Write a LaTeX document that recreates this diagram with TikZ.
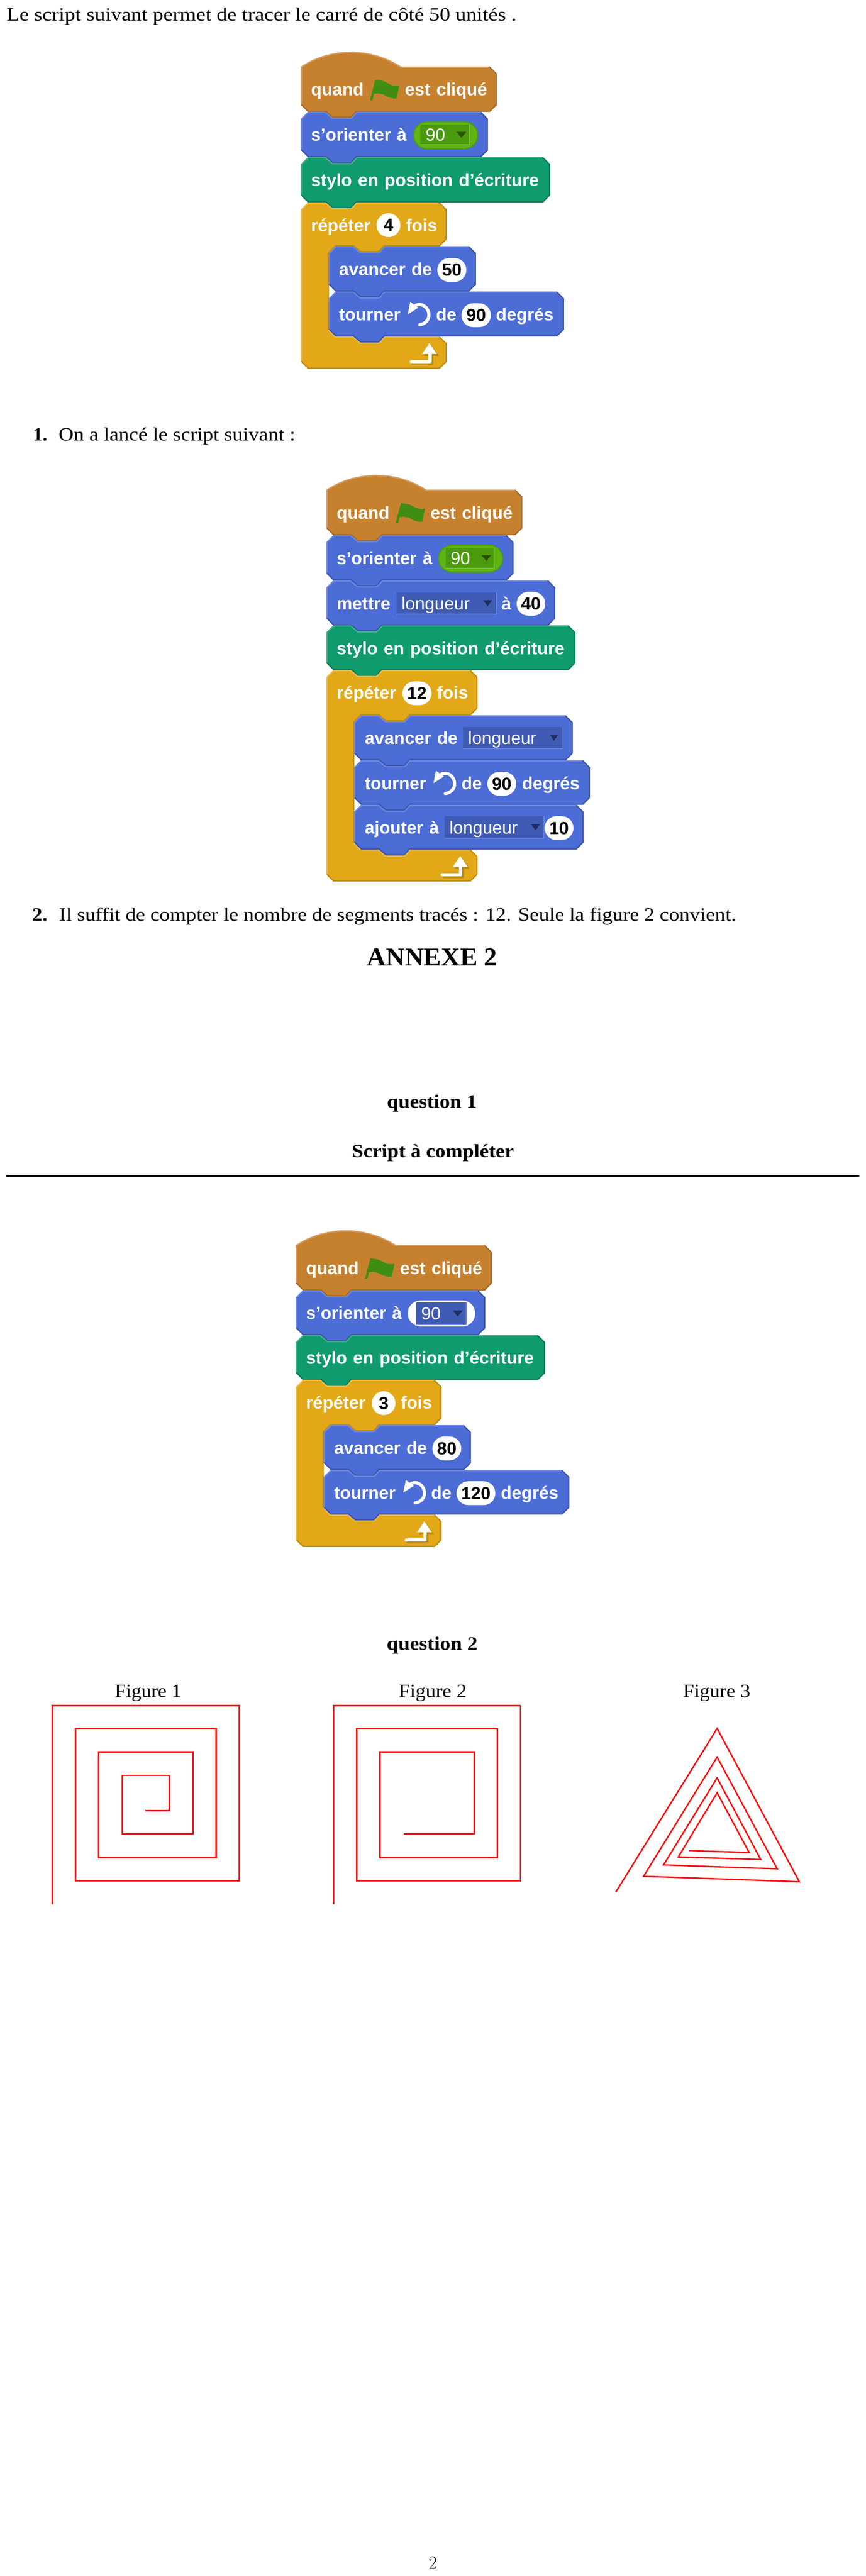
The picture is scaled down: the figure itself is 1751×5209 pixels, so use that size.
\documentclass[tikz,border=0pt]{standalone}
\usepackage{graphicx}
\usepackage{fontspec}
\usetikzlibrary{calc}
\newfontfamily\sr{Liberation Serif}
\newfontfamily\blk{Liberation Sans}
\definecolor{oraB}{HTML}{C6812F}\definecolor{oraL}{HTML}{D59C5F}\definecolor{oraD}{HTML}{A5682A}
\definecolor{bluB}{HTML}{4C6CD6}\definecolor{bluL}{HTML}{6D88E0}\definecolor{bluD}{HTML}{3C55A8}
\definecolor{grnB}{HTML}{0F9B6E}\definecolor{grnL}{HTML}{3FB08A}\definecolor{grnD}{HTML}{0C7C58}
\definecolor{yelB}{HTML}{E2A818}\definecolor{yelL}{HTML}{E9BD50}\definecolor{yelD}{HTML}{BE8C12}
\definecolor{flagG}{HTML}{3F8E13}
\definecolor{pilG}{HTML}{5FB513}\definecolor{pilGD}{HTML}{4A9A0E}\definecolor{pilGL}{HTML}{78C43A}\definecolor{pilGT}{HTML}{2A4F08}
\definecolor{ddB}{HTML}{3F5BB3}\definecolor{ddL}{HTML}{6784DF}\definecolor{ddT}{HTML}{1F2D60}
\tikzset{
  edgeline/.style={line width=2.4pt,line join=miter},
  blocktext/.style={anchor=base west,inner sep=0pt,text=white,font=\blk\bfseries\fontsize{17.75}{20}\selectfont,execute at begin node={\spaceskip=6.1pt\relax}},
  regtext/.style={anchor=base west,inner sep=0pt,text=white,font=\blk\fontsize{17.75}{20}\selectfont},
  numtext/.style={anchor=base,inner sep=0pt,text=black,font=\blk\bfseries\fontsize{17.75}{20}\selectfont},
  bodytext/.style={anchor=base west,inner sep=0pt,text=black,font=\sr\fontsize{19}{22}\selectfont},
  boldtext/.style={anchor=base west,inner sep=0pt,text=black,font=\sr\bfseries\fontsize{19}{22}\selectfont},
  titletext/.style={anchor=base west,inner sep=0pt,text=black,font=\sr\bfseries\fontsize{26}{30}\selectfont},
  pageno/.style={anchor=base west,inner sep=0pt,text=black,font=\fontsize{19}{22}\selectfont},
  redpath/.style={red,line width=1.5pt,line join=miter},
  redtri/.style={red,line width=1.4pt,line join=miter},
  fitscale/.style 2 args={shift={(#1,#2)},scale=.995,shift={(-#1,-#2)}}
}
\newcounter{nn}
\newcommand\tx[4]{\stepcounter{nn}\node[#1] (n\thenn) at (#2,#3) {#4};}
\newcommand\fitx[2]{\resizebox{\dimexpr #1pt/2\relax}{\height}{#2}}
\newcommand\cmdblock[5]{%
  \begin{scope}[shift={(#1,#2)}]
  \def\bW{#3}\def\bH{#4}
  \def\pth{(0,14)--(14,0)--(50,0)--(64,12)--(102,12)--(113,0)--(\bW-14,0)--(\bW,14)--(\bW,\bH-14)--(\bW-14,\bH)--(113,\bH)--(102,\bH+12)--(64,\bH+12)--(50,\bH)--(14,\bH)--(0,\bH-14)--cycle}
  \fill[#5B] \pth;
  \begin{scope}\clip \pth;
    \draw[#5L,edgeline] (0,\bH-14)--(0,14)--(14,0)--(50,0)--(64,12)--(102,12)--(113,0)--(\bW-14,0);
    \draw[#5D,edgeline] (\bW-14,0)--(\bW,14)--(\bW,\bH-14)--(\bW-14,\bH)--(113,\bH)--(102,\bH+12)--(64,\bH+12)--(50,\bH)--(14,\bH)--(0,\bH-14);
  \end{scope}
  \end{scope}}
\newcommand\hatblock[5]{%
  \begin{scope}[shift={(#1,#2)}]
  \def\bW{#3}\def\bH{#4}
  \def\pth{(0,0) .. controls (60,-40) and (143,-40) .. (203,0)--(\bW-14,0)--(\bW,14)--(\bW,\bH-14)--(\bW-14,\bH)--(113,\bH)--(102,\bH+12)--(64,\bH+12)--(50,\bH)--(14,\bH)--(0,\bH-14)--cycle}
  \fill[#5B] \pth;
  \begin{scope}\clip \pth;
    \draw[#5L,edgeline] (0,\bH-14)--(0,0) .. controls (60,-40) and (143,-40) .. (203,0)--(\bW-14,0);
    \draw[#5D,edgeline] (\bW-14,0)--(\bW,14)--(\bW,\bH-14)--(\bW-14,\bH)--(113,\bH)--(102,\bH+12)--(64,\bH+12)--(50,\bH)--(14,\bH)--(0,\bH-14);
  \end{scope}
  \end{scope}}
% x y W a b T
\newcommand\cblock[6]{%
  \begin{scope}[shift={(#1,#2)}]
  \def\bW{#3}\def\bA{#4}\def\bB{#5}\def\bT{#6}\def\bR{56.5}
  \def\pth{(0,14)--(14,0)--(50,0)--(64,12)--(102,12)--(113,0)--(\bW-14,0)--(\bW,14)--(\bW,\bA-14)--(\bW-14,\bA)--(\bR+113,\bA)--(\bR+102,\bA+12)--(\bR+64,\bA+12)--(\bR+50,\bA)--(\bR+14,\bA)--(\bR,\bA+14)--(\bR,\bB-14)--(\bR+14,\bB)--(\bR+50,\bB)--(\bR+64,\bB+12)--(\bR+102,\bB+12)--(\bR+113,\bB)--(\bW-14,\bB)--(\bW,\bB+14)--(\bW,\bT-14)--(\bW-14,\bT)--(14,\bT)--(0,\bT-14)--cycle}
  \fill[yelB] \pth;
  \begin{scope}\clip \pth;
    \draw[yelL,edgeline] (0,\bT-14)--(0,14)--(14,0)--(50,0)--(64,12)--(102,12)--(113,0)--(\bW-14,0);
    \draw[yelL,edgeline] (\bR,\bB-14)--(\bR+14,\bB)--(\bR+50,\bB)--(\bR+64,\bB+12)--(\bR+102,\bB+12)--(\bR+113,\bB)--(\bW-14,\bB);
    \draw[yelD,edgeline] (\bW-14,0)--(\bW,14)--(\bW,\bA-14)--(\bW-14,\bA)--(\bR+113,\bA)--(\bR+102,\bA+12)--(\bR+64,\bA+12)--(\bR+50,\bA)--(\bR+14,\bA)--(\bR,\bA+14)--(\bR,\bB-14);
    \draw[yelD,edgeline] (\bW-14,\bB)--(\bW,\bB+14)--(\bW,\bT-14)--(\bW-14,\bT)--(14,\bT)--(0,\bT-14);
  \end{scope}
  \draw[white,line width=0.5pt] (\bR+.5,\bA+14)--(\bR+14,\bA+.5);
  \end{scope}}
\newcommand\flagicon[2]{%
  \begin{scope}[shift={(#1,#2)}]
  \fill[flagG] (0,47)--(11,6)--(15,7)--(5,47.5)--cycle;
  \fill[flagG] (11,7) .. controls (22,5) and (32,10) .. (42.5,16) .. controls (48,18) and (54,18) .. (60,17)
     -- (54,44) .. controls (46,44) and (38,42) .. (30,37) .. controls (22,33) and (14,33) .. (5,35) -- cycle;
  \end{scope}}
\newcommand\turnicon[2]{%
  \begin{scope}[shift={(#1,#2)}]
  \draw[white,line width=3.2pt,line cap=round] (-7,-17) .. controls (6,-24) and (21,-13) .. (21,2) .. controls (21,14) and (11,21) .. (2,22);
  \fill[white] (-17,-24.6)--(-1,-12.6)--(-22,1)--cycle;
  \end{scope}}
\newcommand\repicon[2]{%
  \begin{scope}[shift={(#1,#2)}]
  \draw[yelD,line width=3.2pt,line cap=round,line join=round] (-68,-10)--(-30,-10)--(-30,-27);
  \fill[yelD] (-46,-26)--(-31,-48)--(-16,-26)--cycle;
  \draw[white,line width=3.2pt,line cap=round,line join=round] (-72,-14)--(-34,-14)--(-34,-31);
  \fill[white] (-50,-30)--(-35,-52)--(-20,-30)--cycle;
  \end{scope}}
% x1 x2 ytop label
\newcommand\numpill[4]{%
  \fill[white,rounded corners=12pt] (#1,#3) rectangle (#2,#3+48.5);
  \stepcounter{nn}\node[numtext] (n\thenn) at ($(#1,#3+36.5)!.5!(#2,#3+36.5)$) {#4};}
% x1 y1 x2 y2 tri-x1 tri-x2 fill edge tri
\newcommand\dropbox[9]{%
  \fill[#7] (#1,#2) rectangle (#3,#4);
  \draw[#8,line width=1pt] (#1,#4)--(#3,#4)--(#3,#2);
  \fill[#9] (#5,{(#2+#4)/2-6}) -- (#6,{(#2+#4)/2-6}) -- ({(#5+#6)/2},{(#2+#4)/2+6}) -- cycle;}
\newcommand\greenpill[2]{%
  \fill[pilG,rounded corners=14pt] (#1,#2) rectangle (#1+132,#2+57);
  \draw[pilGD,line width=1pt,rounded corners=13.5pt] (#1+1,#2+1) rectangle (#1+131,#2+56);
  \dropbox{#1+15}{#2+7}{#1+114}{#2+48}{#1+88}{#1+108}{pilGD}{pilGL}{pilGT}}
\begin{document}
\begin{tikzpicture}[x=0.5pt,y=-0.5pt]
\useasboundingbox (0,0) rectangle (1751,5209);
\fill[white] (0,0) rectangle (1751,5209);

\tx{bodytext}{13}{42}{\fitx{1031}{Le script suivant permet de tracer le carré de côté 50 unités .}}

% ---- script 1
\begin{scope}[fitscale={550}{80}]
\hatblock{609}{135}{398}{92}{ora}
\flagicon{749}{156}
\tx{blocktext}{629}{194}{quand}
\tx{blocktext}{820}{194}{est cliqué}
\cmdblock{609}{227}{380}{92}{blu}
\tx{blocktext}{629}{286}{s’orienter à}
\greenpill{837}{246}
\tx{regtext}{862}{286}{90}
\cmdblock{609}{319}{506}{92}{grn}
\tx{blocktext}{629}{378}{stylo en position d’écriture}
\cblock{609}{411}{296}{89}{272.5}{338}
\tx{blocktext}{629}{470}{répéter}
\numpill{762.5}{811}{433}{4}
\tx{blocktext}{822}{470}{fois}
\cmdblock{665.5}{500}{299}{92}{blu}
\tx{blocktext}{686}{559}{avancer de}
\numpill{886}{945}{524}{50}
\cmdblock{665.5}{592}{478}{91.5}{blu}
\tx{blocktext}{686}{651}{tourner}
\turnicon{848}{637.6}
\tx{blocktext}{883}{651}{de}
\numpill{935}{995}{616}{90}
\tx{blocktext}{1005}{651}{degrés}
\repicon{905}{749}
\end{scope}

% ---- line 1
\tx{boldtext}{67}{891}{\fitx{28.5}{1.}}
\tx{bodytext}{118.3}{891}{\fitx{478.5}{On a lancé le script suivant :}}

% ---- script 2
\begin{scope}[fitscale={600}{930}]
\hatblock{660.4}{990.6}{398}{92.4}{ora}
\flagicon{801}{1012}
\tx{blocktext}{681}{1050}{quand}
\tx{blocktext}{871.5}{1050}{est cliqué}
\cmdblock{660.4}{1083}{380}{92}{blu}
\tx{blocktext}{681}{1142}{s’orienter à}
\greenpill{887.5}{1102}
\tx{regtext}{912.5}{1142}{90}
\cmdblock{660.4}{1175}{465}{91.4}{blu}
\tx{blocktext}{681}{1234}{mettre}
\dropbox{803}{1199.5}{1006}{1243}{979}{997}{ddB}{ddL}{ddT}
\tx{regtext}{812.5}{1234}{longueur}
\tx{blocktext}{1016}{1234}{à}
\numpill{1047}{1105}{1198}{40}
\cmdblock{660.4}{1266.4}{506}{90.6}{grn}
\tx{blocktext}{681}{1325.5}{stylo en position d’écriture}
\cblock{660.4}{1357}{307}{92.3}{364.7}{430}
\tx{blocktext}{681}{1416}{répéter}
\numpill{815}{874}{1380}{12}
\tx{blocktext}{884.6}{1416}{fois}
\cmdblock{716.9}{1449.3}{444}{91.2}{blu}
\tx{blocktext}{738}{1508}{avancer de}
\dropbox{938}{1472.4}{1141}{1517}{1114.6}{1131}{ddB}{ddL}{ddT}
\tx{regtext}{948}{1508}{longueur}
\cmdblock{716.9}{1540.5}{479}{90.5}{blu}
\tx{blocktext}{738}{1599.5}{tourner}
\turnicon{900}{1586}
\tx{blocktext}{934.6}{1599.5}{de}
\numpill{987.5}{1046}{1564}{90}
\tx{blocktext}{1057.5}{1599.5}{degrés}
\cmdblock{716.9}{1631}{466}{90.7}{blu}
\tx{blocktext}{738}{1690}{ajouter à}
\dropbox{901}{1654}{1103}{1699}{1076}{1094.6}{ddB}{ddL}{ddT}
\tx{regtext}{910}{1690}{longueur}
\numpill{1104}{1162.5}{1654}{10}
\repicon{967.4}{1787}
\end{scope}

% ---- headings
\tx{boldtext}{64.7}{1862.7}{\fitx{31}{2.}}
\tx{bodytext}{119.4}{1862.7}{\fitx{1369}{Il suffit de compter le nombre de segments tracés : 12. Seule la figure 2 convient.}}
\tx{titletext}{742.3}{1953.2}{\fitx{262.7}{ANNEXE 2}}
\tx{boldtext}{782}{2240.8}{\fitx{182}{question 1}}
\tx{boldtext}{711.4}{2339.9}{\fitx{327.4}{Script à compléter}}
\draw[black,line width=1.5pt] (13,2377.5) -- (1738,2377.5);

% ---- script 3
\begin{scope}[fitscale={550}{2460}]
\hatblock{598.75}{2518}{398}{92}{ora}
\flagicon{739}{2539}
\tx{blocktext}{619}{2577}{quand}
\tx{blocktext}{810}{2577}{est cliqué}
\cmdblock{598.75}{2610}{384.6}{91}{blu}
\tx{blocktext}{619}{2669}{s’orienter à}
\fill[white,rounded corners=13pt] (826,2630.5) rectangle (963,2683.4);
\dropbox{843}{2634}{945}{2680}{917.5}{937.5}{ddB}{ddL}{ddT}
\tx{regtext}{853}{2670}{90}
\cmdblock{598.75}{2701}{506}{91}{grn}
\tx{blocktext}{619}{2760}{stylo en position d’écriture}
\cblock{598.75}{2792}{296}{92}{273.6}{339.6}
\tx{blocktext}{619}{2851}{répéter}
\numpill{753}{801}{2815}{3}
\tx{blocktext}{811.7}{2851}{fois}
\cmdblock{655.25}{2884}{299}{91}{blu}
\tx{blocktext}{676}{2943}{avancer de}
\numpill{876}{934.6}{2907}{80}
\cmdblock{655.25}{2975}{499}{90.6}{blu}
\tx{blocktext}{676}{3034}{tourner}
\turnicon{839}{3020}
\tx{blocktext}{873}{3034}{de}
\numpill{925}{1004}{2998}{120}
\tx{blocktext}{1015}{3034}{degrés}
\repicon{894.75}{3131.6}
\end{scope}

% ---- question 2 and figures
\tx{boldtext}{781.5}{3336}{\fitx{184}{question 2}}
\tx{bodytext}{231.8}{3432}{\fitx{135}{Figure 1}}
\tx{bodytext}{806}{3432}{\fitx{137}{Figure 2}}
\tx{bodytext}{1381}{3432}{\fitx{136}{Figure 3}}

\begin{scope}[xshift=0.25pt,xscale=.995]
\draw[redpath] (105.5,3850)--(105.5,3449)--(486,3449)--(486,3803)--(152.6,3803)--(152.6,3496)--(439,3496)--(439,3756)--(200,3756)--(200,3543)--(392,3543)--(392,3708)--(248,3708)--(248,3590)--(343,3590)--(343,3661)--(295,3661);
\draw[redpath] (677,3850)--(677,3449)--(1057,3449)--(1057,3803)--(725,3803)--(725,3496)--(1010,3496)--(1010,3756)--(772,3756)--(772,3543)--(963,3543)--(963,3708)--(820,3708);
\draw[redtri] (1251,3826)--(1457,3495)--(1624,3805)--(1307.5,3794)--(1457,3553)--(1579,3779)--(1348,3771)--(1457,3595)--(1545.5,3760)--(1378,3755)--(1457,3625)--(1522,3746)--(1400,3742);
\end{scope}

\tx{pageno}{866.7}{5195}{\fitx{16.5}{2}}
\end{tikzpicture}
\end{document}
